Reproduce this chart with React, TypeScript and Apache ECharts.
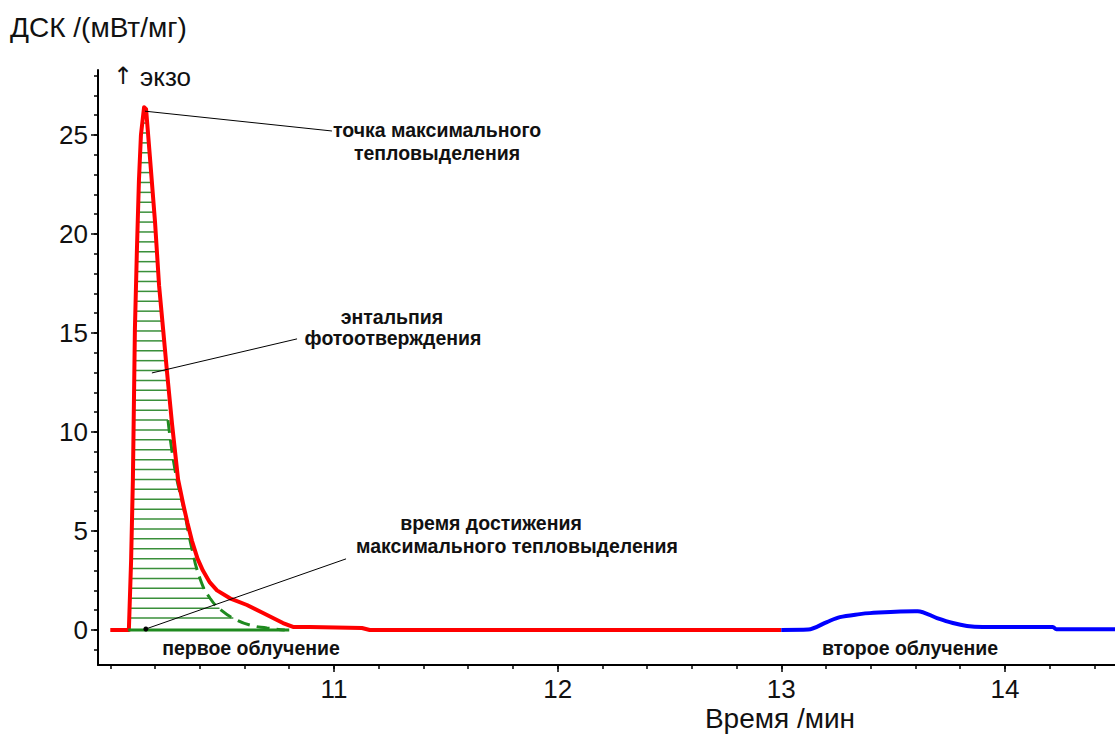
import React, { useEffect, useRef } from "react";
import * as echarts from "echarts";

// ---- data ----
const RED_TIME = [10.0, 10.079, 10.083, 10.093, 10.101, 10.11, 10.119, 10.128, 10.137, 10.151, 10.16, 10.177, 10.2, 10.218, 10.236, 10.253, 10.276, 10.303, 10.325, 10.345, 10.365, 10.39, 10.414, 10.445, 10.477, 10.535, 10.611, 10.683, 10.772, 10.817, 10.893, 11.125, 11.16, 13.0];
const RED_DSC = [0, 0, 0, 3.5, 7.6, 15.2, 19.2, 22.7, 25.0, 26.4, 26.3, 23.9, 20.6, 17.4, 15.2, 13.1, 10.4, 7.6, 6.4, 5.4, 4.5, 3.6, 3.0, 2.4, 2.0, 1.6, 1.26, 0.86, 0.35, 0.15, 0.15, 0.1, 0, 0];

const BLUE_TIME = [13.0, 13.12, 13.204, 13.262, 13.351, 13.396, 13.597, 13.61, 13.696, 13.767, 13.83, 13.9, 14.214, 14.23, 14.492];
const BLUE_DSC = [0, 0.02, 0.4, 0.65, 0.8, 0.85, 0.95, 0.95, 0.6, 0.35, 0.2, 0.15, 0.15, 0.03, 0.03];

const GREEN_TIME = [10.258, 10.289, 10.329, 10.361, 10.401, 10.446, 10.5, 10.557, 10.624, 10.7, 10.78];
const GREEN_DSC = [10.6, 8.1, 6.1, 4.3, 2.6, 1.6, 0.96, 0.55, 0.25, 0.1, 0];

const BASELINE_TIME = [10.08, 10.8];
const BASELINE_DSC = [0, 0];

const Y_LABELS = [0, 5, 10, 15, 20, 25];
const Y_MINOR = [-1, 0, 1, 2, 3, 4, 5, 6, 7, 8, 9, 10, 11, 12, 13, 14, 15, 16, 17, 18, 19, 20, 21, 22, 23, 24, 25, 26, 27, 28];
const X_LABELS = [11, 12, 13, 14];
const X_MINOR = [10, 10.2, 10.4, 10.6, 10.8, 11, 11.2, 11.4, 11.6, 11.8, 12, 12.2, 12.4, 12.6, 12.8, 13, 13.2, 13.4, 13.6, 13.8, 14, 14.2, 14.4];

const X_MIN = 9.945;
const X_MAX = 14.492;
const Y_MIN = -1.77;
const Y_MAX = 28.28;

const zip = (a: number[], b: number[]) => a.map((v, i) => [v, b[i]]);

function interpT(v: number, ts: number[], vs: number[]): number | null {
  for (let i = 0; i < ts.length - 1; i++) {
    const a = vs[i], b = vs[i + 1];
    if ((a - v) * (b - v) <= 0 && a !== b) {
      return ts[i] + ((v - a) / (b - a)) * (ts[i + 1] - ts[i]);
    }
  }
  return null;
}

const FONT = "'Liberation Sans', Arial, sans-serif";

export default function App() {
  const ref = useRef<HTMLDivElement>(null);
  useEffect(() => {
    const chart = echarts.init(ref.current!, null, { renderer: "svg" });

    // hatched region boundaries (from the data)
    let peakIdx = 0;
    RED_DSC.forEach((v, i) => { if (v > RED_DSC[peakIdx]) peakIdx = i; });
    const leftT = RED_TIME.slice(2, peakIdx + 1);
    const leftV = RED_DSC.slice(2, peakIdx + 1);
    const rightT: number[] = [];
    const rightV: number[] = [];
    for (let i = peakIdx; i < RED_TIME.length; i++) {
      if (RED_DSC[i] > GREEN_DSC[0]) { rightT.push(RED_TIME[i]); rightV.push(RED_DSC[i]); }
    }
    GREEN_TIME.forEach((t, i) => { rightT.push(t); rightV.push(GREEN_DSC[i]); });
    const peak = RED_DSC[peakIdx];

    const textStyle = (t: string, x: number, y: number, size: number, bold: boolean, align = "center", family = FONT) => ({
      type: "text",
      x,
      y,
      style: {
        text: t,
        fill: "#111",
        font: `${bold ? "bold " : ""}${size}px ${family}`,
        align,
        verticalAlign: "middle",
      },
    });

    const option: any = {
      animation: false,
      backgroundColor: "#fff",
      grid: { left: 98, top: 70, right: 0, bottom: 71, outerBoundsMode: "none" },
      xAxis: [
        {
          type: "value",
          min: X_MIN,
          max: X_MAX,
          axisLine: { show: true, onZero: false, lineStyle: { color: "#000", width: 2 } },
          axisTick: { show: true, customValues: X_LABELS, length: 7, lineStyle: { color: "#000", width: 1.5 } },
          axisLabel: { show: true, customValues: X_LABELS, margin: 11, color: "#111", fontSize: 26, fontFamily: FONT },
          splitLine: { show: false },
        },
        {
          type: "value",
          min: X_MIN,
          max: X_MAX,
          position: "bottom",
          axisLine: { show: false, onZero: false },
          axisTick: { show: true, customValues: X_MINOR, length: 4, lineStyle: { color: "#000", width: 1.5 } },
          axisLabel: { show: false },
          splitLine: { show: false },
        },
      ],
      yAxis: [
        {
          type: "value",
          min: Y_MIN,
          max: Y_MAX,
          axisLine: { show: true, onZero: false, lineStyle: { color: "#000", width: 2 } },
          axisTick: { show: true, customValues: Y_LABELS, length: 7, lineStyle: { color: "#000", width: 1.5 } },
          axisLabel: { show: true, customValues: Y_LABELS, margin: 10, color: "#111", fontSize: 26, fontFamily: FONT },
          splitLine: { show: false },
        },
        {
          type: "value",
          min: Y_MIN,
          max: Y_MAX,
          position: "left",
          axisLine: { show: false, onZero: false },
          axisTick: { show: true, customValues: Y_MINOR, length: 4, lineStyle: { color: "#000", width: 1.5 } },
          axisLabel: { show: false },
          splitLine: { show: false },
        },
      ],
      series: [
        {
          type: "custom",
          name: "hatch",
          silent: true,
          z: 1,
          data: [[X_MIN, 0]],
          renderItem: (_params: any, api: any) => {
            const children: any[] = [];
            for (let v = 0.6; v < peak - 0.3; v += 0.5) {
              const tl = interpT(v, leftT, leftV);
              const tr = interpT(v, rightT, rightV);
              if (tl == null || tr == null) continue;
              const p1 = api.coord([tl, v]);
              const p2 = api.coord([tr, v]);
              children.push({
                type: "line",
                shape: { x1: p1[0], y1: p1[1], x2: p2[0], y2: p2[1] },
                style: { stroke: "#3a8f3a", lineWidth: 1.5 },
              });
            }
            return { type: "group", children };
          },
        },
        {
          type: "line",
          name: "green dashed",
          data: zip(GREEN_TIME, GREEN_DSC),
          showSymbol: false,
          smooth: true,
          z: 2,
          lineStyle: { color: "#1f8a1f", width: 3, type: [13, 7] },
        },
        {
          type: "line",
          name: "red",
          data: zip(RED_TIME, RED_DSC),
          showSymbol: false,
          z: 3,
          lineStyle: { color: "#ff0000", width: 4, join: "round" },
        },
        {
          type: "line",
          name: "blue",
          data: zip(BLUE_TIME, BLUE_DSC),
          showSymbol: false,
          smooth: 0.3,
          z: 3,
          lineStyle: { color: "#0000ff", width: 4 },
        },
        {
          type: "line",
          name: "baseline",
          data: zip(BASELINE_TIME, BASELINE_DSC),
          showSymbol: false,
          z: 4,
          lineStyle: { color: "#1f8a1f", width: 3 },
          markLine: {
            silent: true,
            symbol: ["none", "none"],
            animation: false,
            label: { show: false },
            lineStyle: { color: "#000", width: 1, type: "solid" },
            data: [
              [{ coord: [10.155, 26.2] }, { coord: [10.991, 25.2] }],
              [{ coord: [10.186, 12.98] }, { coord: [10.835, 14.7] }],
              [{ coord: [10.159, 0.05] }, { coord: [11.054, 3.59] }],
            ],
          },
          markPoint: {
            silent: true,
            animation: false,
            symbol: "circle",
            symbolSize: 5,
            label: { show: false },
            itemStyle: { color: "#000" },
            data: [{ coord: [10.159, 0.05] }],
          },
        },
      ],
      graphic: [
        textStyle("ДСК /(мВт/мг)", 10, 27, 28, false, "left"),
        textStyle("↑", 113, 76, 24, false, "left", "'DejaVu Sans', sans-serif"),
        textStyle("экзо", 140, 77, 26, false, "left"),
        textStyle("точка максимального", 333, 130, 19.5, true, "left"),
        textStyle("тепловыделения", 437, 153, 19.5, true),
        textStyle("энтальпия", 392, 317, 19.5, true),
        textStyle("фотоотверждения", 393, 338, 19.5, true),
        textStyle("время достижения", 491, 523, 19.5, true),
        textStyle("максимального тепловыделения", 517, 546, 19.5, true),
        textStyle("первое облучение", 251, 648, 19.5, true),
        textStyle("второе облучение", 910, 648, 19.5, true),
        textStyle("Время /мин", 780, 718, 28, false),
      ],
    };

    chart.setOption(option);
    return () => chart.dispose();
  }, []);

  return (
    <div
      ref={ref}
      style={{ position: "absolute", left: 0, top: 0, width: 1115, height: 736, background: "#fff" }}
    />
  );
}
